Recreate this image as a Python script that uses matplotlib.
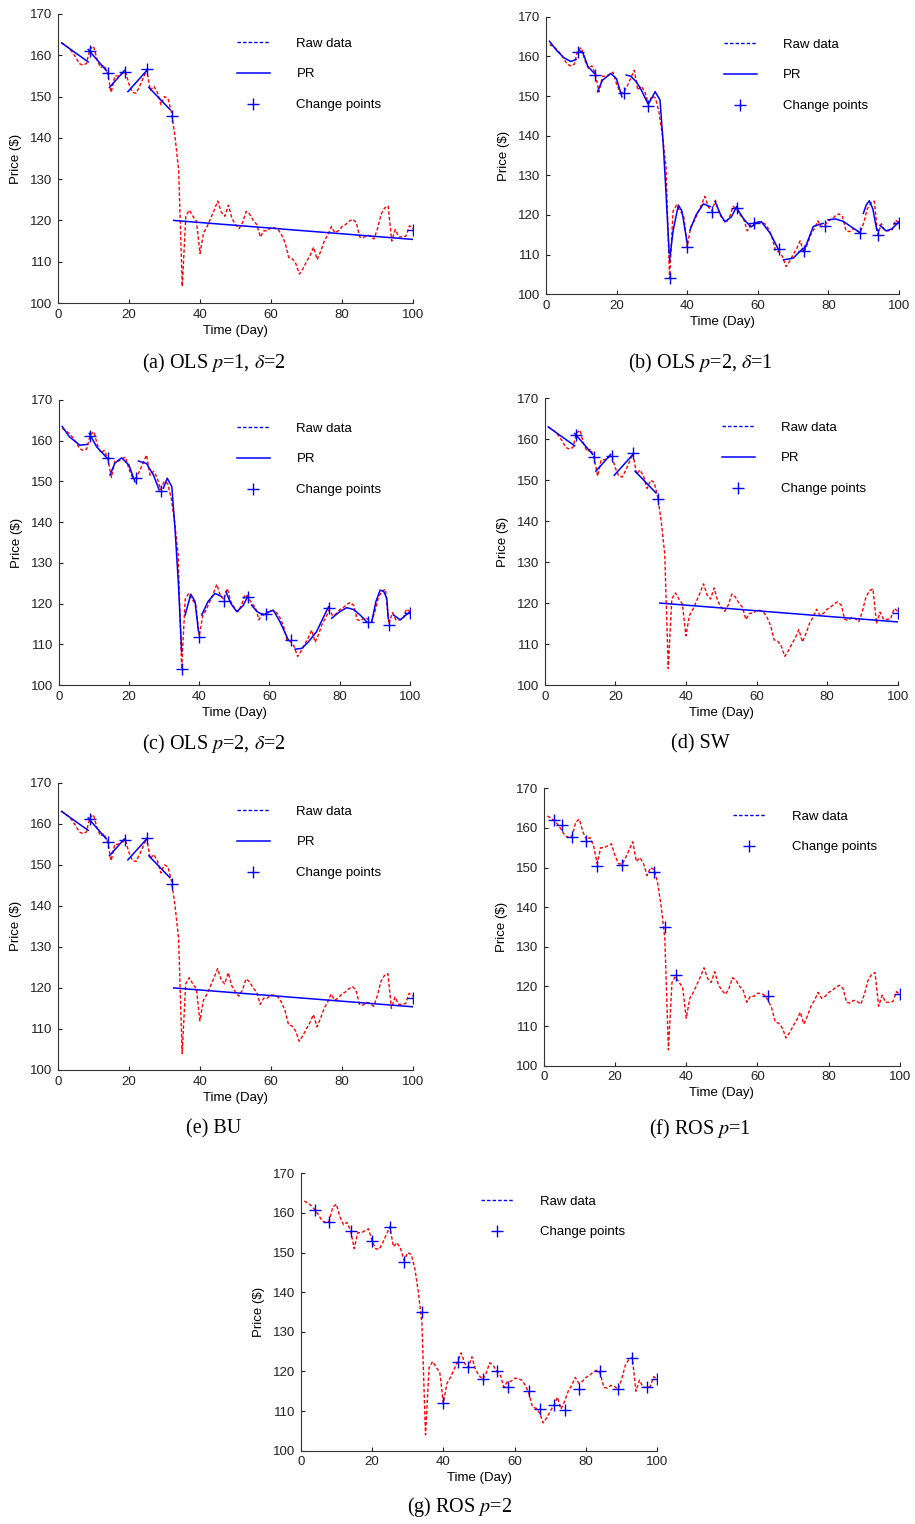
"""Change point detection results on a daily price series: seven panels (a)-(g)."""
import matplotlib
matplotlib.use("Agg")
import matplotlib.pyplot as plt
from matplotlib.lines import Line2D

plt.rcParams["font.family"] = ["Liberation Sans", "DejaVu Sans"]
plt.rcParams["mathtext.fontset"] = "stix"

# raw daily price, days 1..100
DAYS = list(range(1, 101))
RAW = [163, 162.5, 161.8, 160.8, 159.5, 158, 157.6, 158, 161.5, 162.2,
       159, 157, 157.6, 155.5, 151, 155, 155, 155.5, 156, 153,
       151, 150.8, 152.5, 154.5, 156.5, 151.5, 152.5, 151, 148, 150,
       149.5, 146, 140, 132, 104, 121, 122.5, 121, 119.8, 112,
       117, 118.5, 120.5, 122.5, 124.7, 122, 121, 123.7, 120.5, 119,
       118, 119.5, 122.2, 121.5, 120, 119, 116, 117.5, 117.5, 118.3,
       118.2, 117.8, 116.5, 114.5, 111, 110.7, 109.5, 107, 108.3, 110,
       111.5, 113.5, 110.5, 112.5, 115, 116.5, 118.5, 117, 117.5, 118.5,
       119, 119.8, 120.3, 119.5, 116, 115.8, 116.5, 116.2, 115.5, 118,
       121.5, 123, 123.5, 115, 117.8, 116, 116, 116.2, 118.7, 118]

# piecewise linear PR (p=1), shared by OLS p=1, SW and BU
PR1_DAYS = [[1, 8.5], [8.5, 13.6], [14.5, 18.7], [19.7, 25], [25.6, 31.5], [32.6, 100]]
PR1_VALS = [[163, 158.4], [161.4, 156.3], [152.2, 156.3], [151.2, 156.3],
            [152.2, 146.9], [120, 115.4]]
CP1_DAYS = [9, 14, 19, 25, 32, 100]
CP1_VALS = [161.1, 155.6, 156, 156.6, 145.3, 117.6]

# OLS p=2, delta=1
PR_B_DAYS = [[1, 3, 5, 7, 8.5], [9.4, 10.5, 11.9, 13.7],
             [14.6, 16, 18.4, 20, 21.5], [22.7, 24, 25.6, 27, 28.8],
             [29, 30, 30.9, 32.3, 33.2, 34, 34.6, 34.9],
             [35, 36, 37.5, 38.5, 40], [40.8, 42.5, 44.6, 46.5],
             [47.9, 49.5, 50.7, 52.5, 54], [54, 56, 58, 59],
             [59, 61, 63.5, 65.9], [67.3, 70, 72.8], [73.1, 75.7, 78.5],
             [79.9, 82, 84.2, 86.5, 89], [89.9, 90.7, 91.6, 92.6, 93.7],
             [94.6, 96.3, 98, 100]]
PR_B_VALS = [[163.8, 161.5, 159.7, 158.7, 159.2], [161.5, 160.8, 157.4, 155.7],
             [151.1, 154, 155.7, 154.3, 149.8], [155.3, 155, 153.6, 151.5, 148.2],
             [148, 149.5, 151.1, 149, 138, 125.5, 115.4, 110.4],
             [108.5, 116, 122.5, 121, 113], [116.2, 120, 122.8, 122.1],
             [123.4, 120, 118.3, 119.5, 122.1], [121.8, 119, 117, 117.5],
             [118, 118.3, 115.4, 111.2], [108.7, 109.1, 111.6], [111, 117.1, 117.9],
             [118.8, 119, 118.4, 117, 115.5], [120.4, 122.5, 123.6, 121.5, 116.2],
             [117.4, 116, 116.5, 118.3]]
CP_B_DAYS = [9, 14, 22, 29, 35, 40, 47, 54, 59, 66, 73, 79, 89, 94, 100]
CP_B_VALS = [161.2, 155.3, 150.8, 147.5, 104.2, 112, 120.8, 121.7, 118, 111.3,
             111, 117.2, 115.5, 114.9, 118]

# OLS p=2, delta=2
PR_C_DAYS = [[1, 3, 6, 8.2], [8.7, 10.8, 13.7], [14.6, 16, 17.9, 20, 21.7],
             [22.7, 25, 27, 28.6], [29.8, 30.9, 32.2, 33.1, 34.1, 35],
             [36, 37.6, 38.8, 39.8], [40.7, 42.5, 44.5, 46.4],
             [47.6, 49, 50.7, 52.5, 54], [54.9, 56.5, 58.3, 60, 61.1, 63, 65.4],
             [67.3, 69.2, 71, 73.4, 75, 76.8], [77.7, 80, 82, 84, 85.8, 87.7],
             [89.1, 90.3, 91.5, 92.5, 93.4, 93.8], [95.3, 97.2, 100]]
PR_C_VALS = [[163.5, 161, 158.9, 159.1], [161.8, 158.5, 155.8],
             [151.6, 154.5, 155.8, 154, 149.9], [155, 154.4, 151.5, 147.9],
             [148.3, 150.8, 148.7, 138.5, 124.5, 108.2], [117.2, 122.3, 120.5, 113.1],
             [117.2, 120.5, 122.5, 121.7], [122.9, 120, 118, 119.5, 122.1],
             [119.6, 118, 117.2, 118, 118.4, 115.5, 111],
             [108.8, 109, 110.5, 113.1, 116, 119.2],
             [116.4, 118, 119, 118.5, 117.2, 115.5],
             [115.5, 120.5, 123.3, 123, 121.3, 116.4], [117.2, 116, 118]]
CP_C_DAYS = [9, 14, 22, 29, 35, 40, 47, 54, 59, 66, 77, 88, 94, 100]
CP_C_VALS = [161.2, 155.8, 150.8, 147.6, 103.9, 111.9, 120.6, 121.7, 117.4, 111,
             119, 115.5, 114.7, 117.6]

# ROS p=1 and p=2 (change points only)
CP_F_DAYS = [3, 5, 8, 12, 15, 22, 31, 34, 37, 63, 100]
CP_F_VALS = [162, 160.8, 157.8, 156.8, 150.5, 150.7, 149, 135, 123, 117.5, 118]
CP_G_DAYS = [4, 8, 14, 20, 25, 29, 34, 40, 44, 47, 51, 55, 58, 64, 67, 71, 74,
             78, 84, 89, 93, 97, 100]
CP_G_VALS = [160.8, 157.8, 155.5, 153, 156.5, 147.5, 135, 112, 122.5, 121, 118,
             120, 116, 115, 110.5, 111.5, 110.3, 115.5, 120, 115.5, 123.5, 116.2, 118]

W, H = 915, 1524
fig = plt.figure(figsize=(W / 100, H / 100), dpi=100)


def px_axes(x0, x1, y0, y1):
    return fig.add_axes([x0 / W, 1 - y1 / H, (x1 - x0) / W, (y1 - y0) / H])


def panel(rect, pr_days, pr_vals, cp_days, cp_vals, caption, cap_xy, leg_xy):
    ax = px_axes(*rect)
    ax.plot(DAYS, RAW, color="red", ls=(0, (2.5, 1.5)), lw=1)
    if pr_days is not None:
        for d, v in zip(pr_days, pr_vals):
            ax.plot(d, v, color="blue", lw=1.1)
    ax.plot(cp_days, cp_vals, ls="none", marker="+", ms=9, mew=1, color="blue")
    ax.set_xlim(0, 100)
    ax.set_ylim(100, 170)
    ax.set_xticks([0, 20, 40, 60, 80, 100])
    ax.set_yticks(range(100, 171, 10))
    for s in ("top", "right"):
        ax.spines[s].set_visible(False)
    for s in ("left", "bottom"):
        ax.spines[s].set_color("#333333")
        ax.spines[s].set_linewidth(0.8)
    ax.tick_params(direction="in", length=3, width=0.8, labelsize=9.5, pad=4,
                   colors="#222222")
    ax.set_xlabel("Time (Day)", fontsize=9.5, labelpad=3)
    ax.set_ylabel(r"Price (\$)", fontsize=9.5, labelpad=6)

    handles = [Line2D([], [], color="blue", ls=(0, (2.5, 1.5)), lw=1)]
    labels = ["Raw data"]
    if pr_days is not None:
        handles.append(Line2D([], [], color="blue", lw=1.1))
        labels.append("PR")
    handles.append(Line2D([], [], ls="none", marker="+", ms=9, mew=1, color="blue"))
    labels.append("Change points")
    lx, ly = leg_xy
    ax.legend(handles, labels, loc="upper left", frameon=False, fontsize=9.5,
              bbox_to_anchor=(lx / W, 1 - ly / H), bbox_transform=fig.transFigure,
              borderaxespad=0, borderpad=0, handlelength=2.5, handletextpad=2.0,
              labelspacing=1.4)
    fig.text(cap_xy[0] / W, 1 - cap_xy[1] / H, caption, ha="center", va="center",
             fontsize=14.5, family="Liberation Serif")
    return ax


panel((58, 413, 14, 303), PR1_DAYS, PR1_VALS, CP1_DAYS, CP1_VALS,
      r"(a) OLS $p$=1, $\delta$=2", (214, 363), (237, 37.5))
panel((546, 899, 16.7, 294.3), PR_B_DAYS, PR_B_VALS, CP_B_DAYS, CP_B_VALS,
      r"(b) OLS $p$=2, $\delta$=1", (700, 363), (724, 38.5))
panel((58.7, 410, 400, 685), PR_C_DAYS, PR_C_VALS, CP_C_DAYS, CP_C_VALS,
      r"(c) OLS $p$=2, $\delta$=2", (214, 744), (237, 422.5))
panel((544.7, 897.7, 398.3, 685), PR1_DAYS, PR1_VALS, CP1_DAYS, CP1_VALS,
      "(d) SW", (700, 744), (722, 421.5))
panel((58, 412.7, 782.7, 1070), PR1_DAYS, PR1_VALS, CP1_DAYS, CP1_VALS,
      "(e) BU", (214, 1129), (237, 805.5))
panel((543.7, 900, 788.3, 1065.7), None, None, CP_F_DAYS, CP_F_VALS,
      r"(f) ROS $p$=1", (700, 1129), (733, 810.5))
panel((300.7, 657.3, 1173.3, 1450.7), None, None, CP_G_DAYS, CP_G_VALS,
      r"(g) ROS $p$=2", (460, 1507), (481, 1195.5))

fig.savefig("out.png", dpi=100)
